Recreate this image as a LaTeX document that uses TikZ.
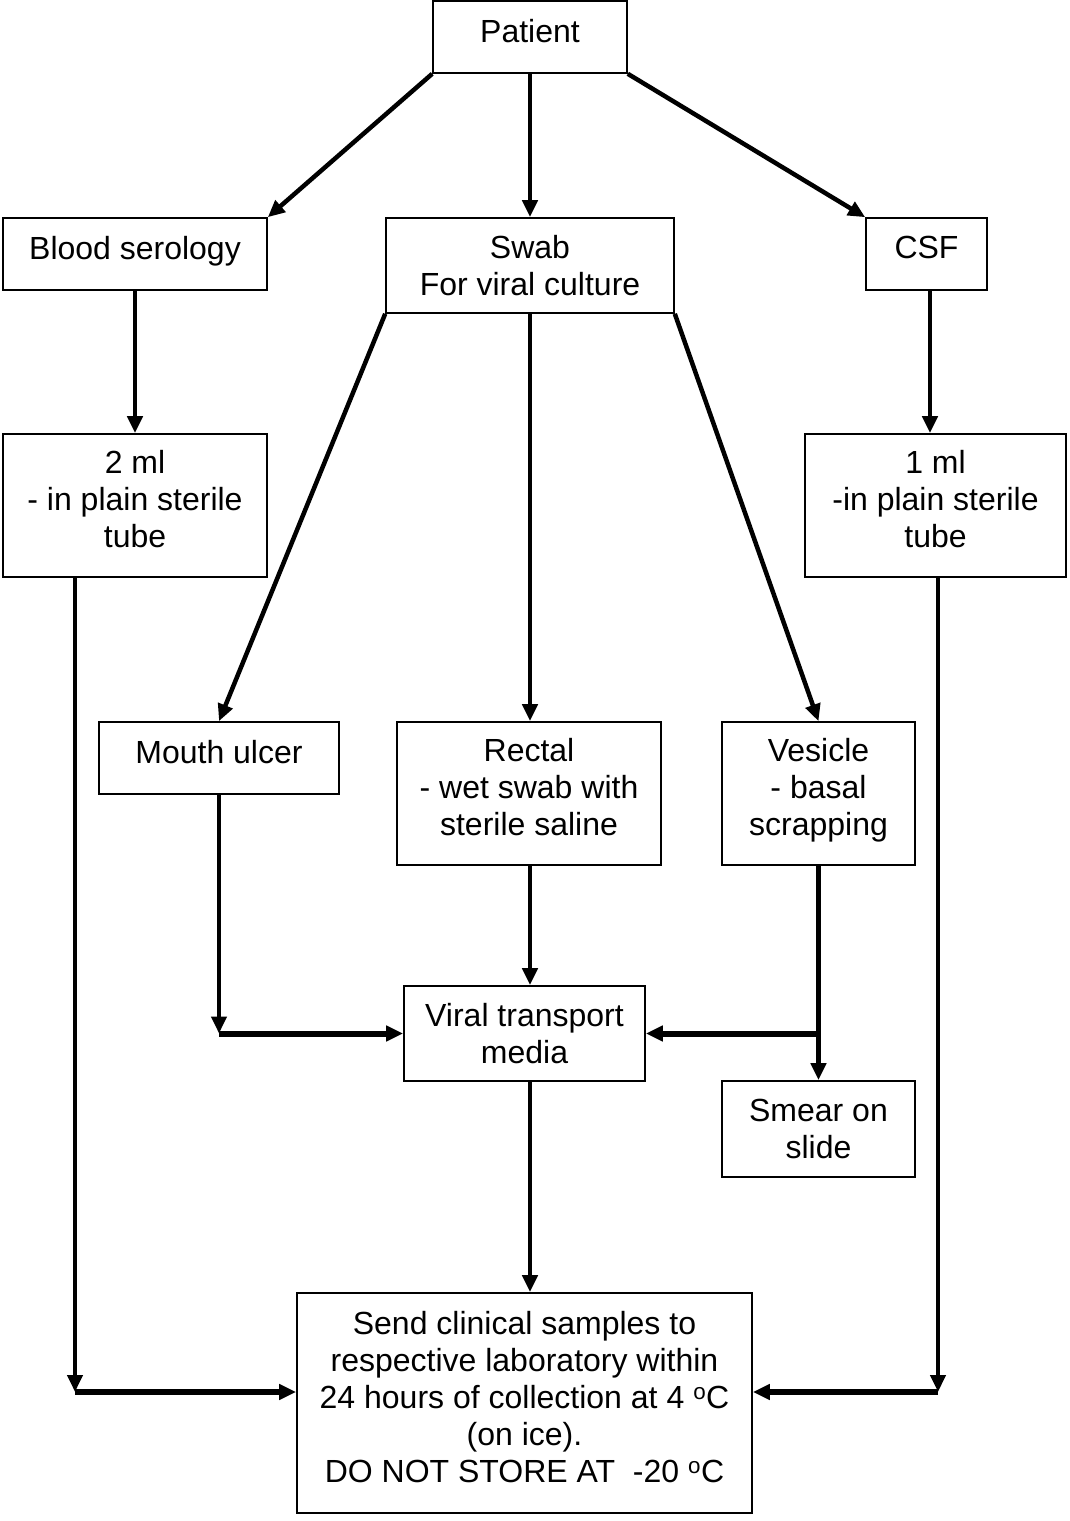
\documentclass[tikz,border=0pt]{standalone}
\usepackage{fontspec}
\setmainfont{Liberation Sans}
\usetikzlibrary{arrows.meta}
\begin{document}
\begin{tikzpicture}[x=1pt,y=-1pt,
 box/.style={draw, line width=1.6pt, align=center, inner sep=0pt, font=\fontsize{32}{37}\selectfont},
 upbox/.style={box, execute at end node={\rule[-13pt]{0pt}{0pt}}},
 arr/.style={line width=4.5pt, -{Triangle[length=17pt,width=15pt]}},
 thickarr/.style={arr, line width=6pt}]
\useasboundingbox (0,0) rectangle (1069,1521);
\node[upbox, minimum width=194, minimum height=72] (patient) at (530,37) {Patient};
\node[upbox, minimum width=264, minimum height=72] (blood) at (135,254) {Blood serology};
\node[box, minimum width=288, minimum height=95] (swab) at (530,265.5) {Swab\\For viral culture};
\node[upbox, minimum width=121, minimum height=72] (csf) at (926.5,254) {CSF};
\node[upbox, minimum width=264, minimum height=143] (twoml) at (135,505.5) {2 ml\\- in plain sterile\\tube};
\node[upbox, minimum width=261, minimum height=143] (oneml) at (935.5,505.5) {1 ml\\-in plain sterile\\tube};
\node[upbox, minimum width=240, minimum height=72] (mouth) at (219,758) {Mouth ulcer};
\node[upbox, minimum width=264, minimum height=143] (rectal) at (529,793.5) {Rectal\\- wet swab with\\sterile saline};
\node[upbox, minimum width=193, minimum height=143] (vesicle) at (818.5,793.5) {Vesicle\\- basal\\scrapping};
\node[box, minimum width=241, minimum height=95] (vtm) at (524.5,1033.5) {Viral transport\\media};
\node[box, minimum width=193, minimum height=96] (smear) at (818.5,1129) {Smear on\\slide};
\node[upbox, minimum width=455, minimum height=220] (send) at (524.5,1403) {Send clinical samples to\\respective laboratory within\\24 hours of collection at 4 \textsuperscript{o}C\\(on ice).\\DO NOT STORE AT\ \ -20 \textsuperscript{o}C};
\coordinate (cx) at (530,0);
\coordinate (lc) at (75,1392);
\coordinate (rc) at (938,1392);
\coordinate (csfx) at (930,0);
\draw[arr] (patient.south west) -- (blood.north east);
\draw[arr] (patient.south) -- (swab.north);
\draw[arr] (patient.south east) -- (csf.north west);
\draw[arr] (blood.south) -- (twoml.north);
\draw[arr] (csfx |- csf.south) -- (csfx |- oneml.north);
\draw[arr] (swab.south west) -- (mouth.north);
\draw[arr] (cx |- swab.south) -- (cx |- rectal.north);
\draw[arr] (swab.south east) -- (vesicle.north);
\coordinate (m) at (mouth.south |- vtm.west);
\draw[arr] (mouth.south) -- (m);
\draw[thickarr] (m) -- (vtm.west);
\draw[arr] (cx |- rectal.south) -- (cx |- vtm.north);
\draw[arr] (vesicle.south) -- (smear.north);
\coordinate (v) at (vesicle.south |- vtm.east);
\draw[thickarr] (v) -- (vtm.east);
\draw[arr] (cx |- vtm.south) -- (cx |- send.north);
\draw[arr] (lc |- twoml.south) -- (lc);
\draw[thickarr] (lc) -- (lc -| send.west);
\draw[arr] (rc |- oneml.south) -- (rc);
\draw[thickarr] (rc) -- (rc -| send.east);
\end{tikzpicture}
\end{document}
